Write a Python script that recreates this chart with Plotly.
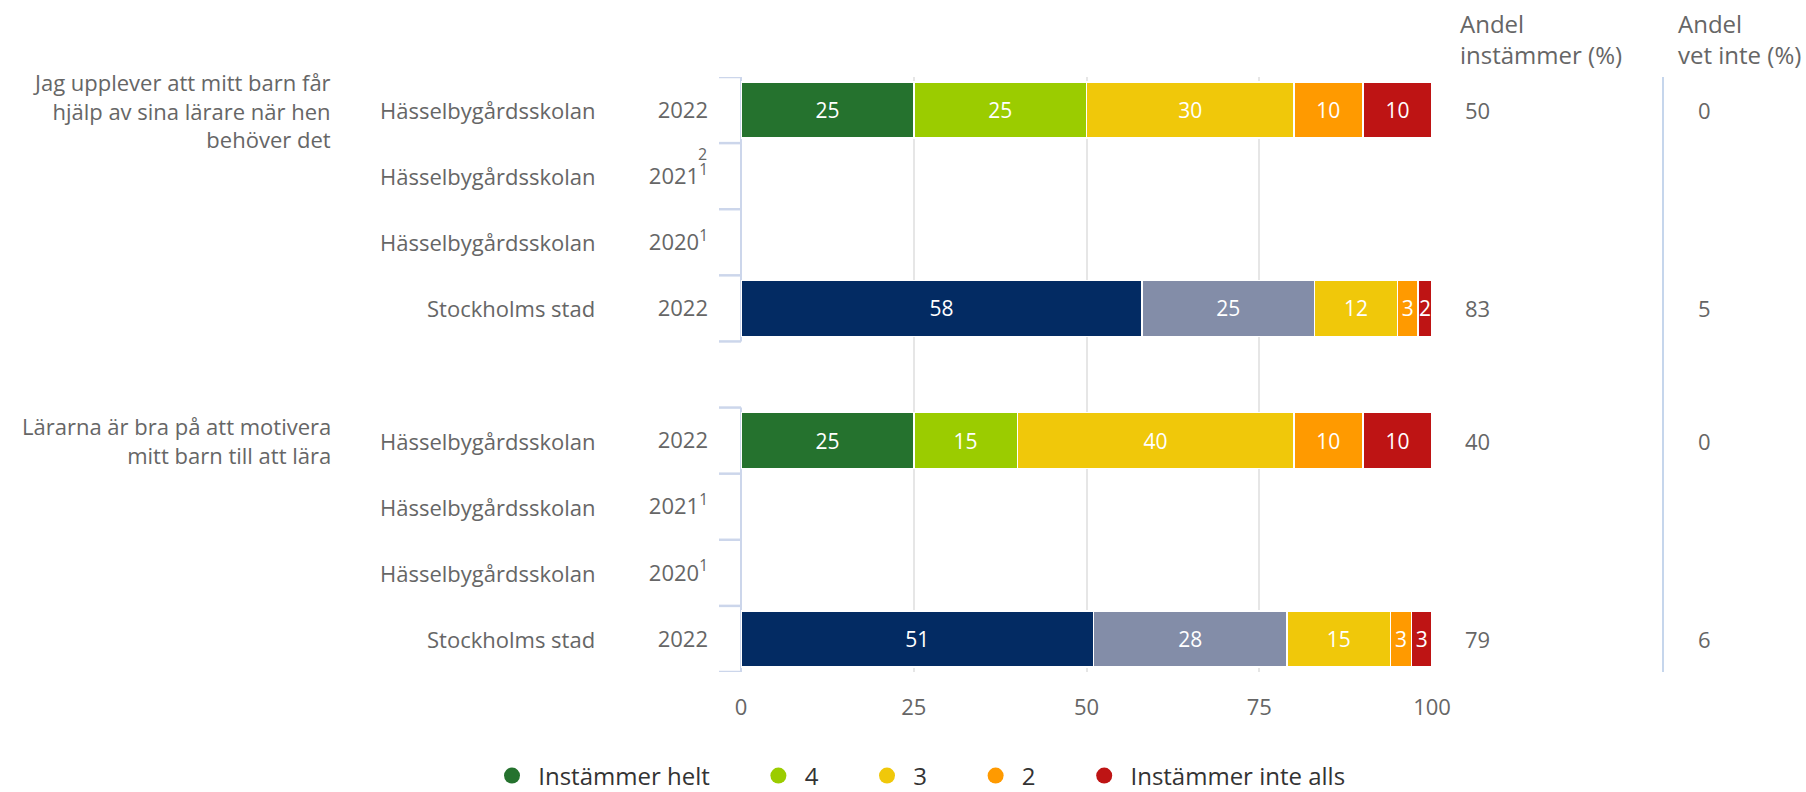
import plotly.graph_objects as go

# ---------------- data ----------------
questions = [
    "Jag upplever att mitt barn får<br>hjälp av sina lärare när hen<br>behöver det",
    "Lärarna är bra på att motivera<br>mitt barn till att lära",
]
units = ["Hässelbygårdsskolan", "Hässelbygårdsskolan", "Hässelbygårdsskolan", "Stockholms stad",
         "Hässelbygårdsskolan", "Hässelbygårdsskolan", "Hässelbygårdsskolan", "Stockholms stad"]
years = ["2022", "2021<sup>1</sup>", "2020<sup>1</sup>", "2022",
         "2022", "2021<sup>1</sup>", "2020<sup>1</sup>", "2022"]
series_names = ["Instämmer helt", "4", "3", "2", "Instämmer inte alls"]
helt = [25, None, None, 58, 25, None, None, 51]
fyra = [25, None, None, 25, 15, None, None, 28]
tre = [30, None, None, 12, 40, None, None, 15]
tva = [10, None, None, 3, 10, None, None, 3]
inte_alls = [10, None, None, 2, 10, None, None, 3]
andel_instammer = [50, None, None, 83, 40, None, None, 79]
andel_vet_inte = [0, None, None, 5, 0, None, None, 6]
x_ticks = [0, 25, 50, 75, 100]

school_colors = ["#25722E", "#9BCC00", "#F0C80A", "#FF9A00", "#BE1414"]
city_colors = ["#032B63", "#838DA8", "#F0C80A", "#FF9A00", "#BE1414"]

# ---------------- layout helpers ----------------
W, H = 1806, 792
L, R, T, B = 741, 1432, 77, 672
def px_x(px):
    return (px - L) / (R - L)
def px_y(py):
    return (B - py) / (B - T)

rows_per_q = 4
slots = [i + i // rows_per_q for i in range(len(units))]   # blank slot between questions

FONT = "Open Sans"
GRAY = "#666666"

fig = go.Figure()
all_series = [helt, fyra, tre, tva, inte_alls]
for k, (name, vals) in enumerate(zip(series_names, all_series)):
    idx = [i for i, v in enumerate(vals) if v is not None]
    colors = [city_colors[k] if units[i] == "Stockholms stad" else school_colors[k] for i in idx]
    fig.add_trace(go.Bar(
        x=[vals[i] for i in idx], y=[slots[i] for i in idx], orientation="h", name=name,
        width=0.85,
        marker=dict(color=colors, line=dict(color="white", width=1.5)),
        text=[str(vals[i]) for i in idx],
        textposition="inside", insidetextanchor="middle", constraintext="none",
        textangle=0,
        textfont=dict(color="white", size=21, family=FONT),
        showlegend=False, legendgroup=name,
    ))

pre = "\u00a0" * 1
pad = "\u00a0" * 7
for k, name in enumerate(series_names):
    fig.add_trace(go.Scatter(
        x=[None], y=[None], mode="markers", legendgroup=name,
        name=pre + name + (pad if k < len(series_names) - 1 else ""),
        marker=dict(symbol="circle", size=16, color=school_colors[k]),
    ))

annotations = []
for q, qtext in enumerate(questions):
    annotations.append(dict(
        x=px_x(333), xref="paper", y=slots[q * rows_per_q], yref="y",
        text=qtext, showarrow=False, xanchor="right", yanchor="middle", align="right",
        font=dict(size=22, color=GRAY, family=FONT),
    ))
for s, u in zip(slots, units):
    annotations.append(dict(
        x=px_x(597), xref="paper", y=s, yref="y", text=u, showarrow=False,
        xanchor="right", yanchor="middle", font=dict(size=22, color=GRAY, family=FONT),
    ))
annotations.append(dict(
    x=px_x(709), xref="paper", y=slots[1], yref="y", yshift=22, text="2",
    showarrow=False, xanchor="right", yanchor="middle",
    font=dict(size=16, color=GRAY, family=FONT),
))
annotations.append(dict(
    x=px_x(1458), xref="paper", y=px_y(39), yref="paper",
    text="Andel<br>instämmer (%)", showarrow=False, xanchor="left", yanchor="middle",
    align="left", font=dict(size=24, color=GRAY, family=FONT),
))
annotations.append(dict(
    x=px_x(1676), xref="paper", y=px_y(39), yref="paper",
    text="Andel<br>vet inte (%)", showarrow=False, xanchor="left", yanchor="middle",
    align="left", font=dict(size=24, color=GRAY, family=FONT),
))
for s, a, v in zip(slots, andel_instammer, andel_vet_inte):
    if a is not None:
        annotations.append(dict(
            x=px_x(1463), xref="paper", y=s, yref="y", text=str(a), showarrow=False,
            xanchor="left", yanchor="middle", font=dict(size=22, color=GRAY, family=FONT),
        ))
    if v is not None:
        annotations.append(dict(
            x=px_x(1696), xref="paper", y=s, yref="y", text=str(v), showarrow=False,
            xanchor="left", yanchor="middle", font=dict(size=22, color=GRAY, family=FONT),
        ))

shapes = []
AXIS_BLUE = "#CCD6EB"
for q in range(len(questions)):
    first = slots[q * rows_per_q]
    last = slots[q * rows_per_q + rows_per_q - 1]
    shapes.append(dict(type="line", xref="paper", yref="y", x0=0, x1=0,
                       y0=first - 0.5, y1=last + 0.5, layer="between",
                       line=dict(color=AXIS_BLUE, width=2)))
    for b in range(rows_per_q + 1):
        yb = first - 0.5 + b
        shapes.append(dict(type="line", xref="paper", yref="y", x0=px_x(719), x1=0,
                           y0=yb, y1=yb, line=dict(color=AXIS_BLUE, width=2.5)))
shapes.append(dict(type="line", xref="paper", yref="paper", x0=px_x(1663), x1=px_x(1663),
                   y0=px_y(672), y1=px_y(77), line=dict(color="#C6D6EC", width=2)))

fig.update_layout(
    width=W, height=H,
    margin=dict(l=L, r=W - R, t=T, b=H - B, pad=0, autoexpand=False),
    paper_bgcolor="white", plot_bgcolor="white",
    barmode="stack", bargap=0.15,
    font=dict(family=FONT, color=GRAY, size=22),
    xaxis=dict(range=[0, 100], tickvals=x_ticks, ticktext=[str(t) for t in x_ticks],
               showgrid=True, gridcolor="#E6E6E6", gridwidth=1.5, zeroline=False,
               showline=False, ticks="", ticklabelstandoff=20, automargin=False,
               tickfont=dict(size=22, color=GRAY, family=FONT), fixedrange=True),
    yaxis=dict(range=[max(slots) + 0.5, -0.5], tickvals=slots, ticktext=years,
               showgrid=False, zeroline=False, showline=False, ticks="",
               ticklabelstandoff=32, automargin=False,
               tickfont=dict(size=22, color=GRAY, family=FONT), fixedrange=True),
    legend=dict(orientation="h", xref="paper", yref="paper",
                x=px_x(492), xanchor="left", y=px_y(776), yanchor="middle",
                font=dict(size=24, color="#333333", family=FONT),
                bgcolor="rgba(0,0,0,0)", borderwidth=0),
    annotations=annotations,
    shapes=shapes,
    showlegend=True,
)

fig.write_html("out.html",
               config={"displayModeBar": False},
               post_script="document.body.style.margin='0';document.body.style.overflow='hidden';")
